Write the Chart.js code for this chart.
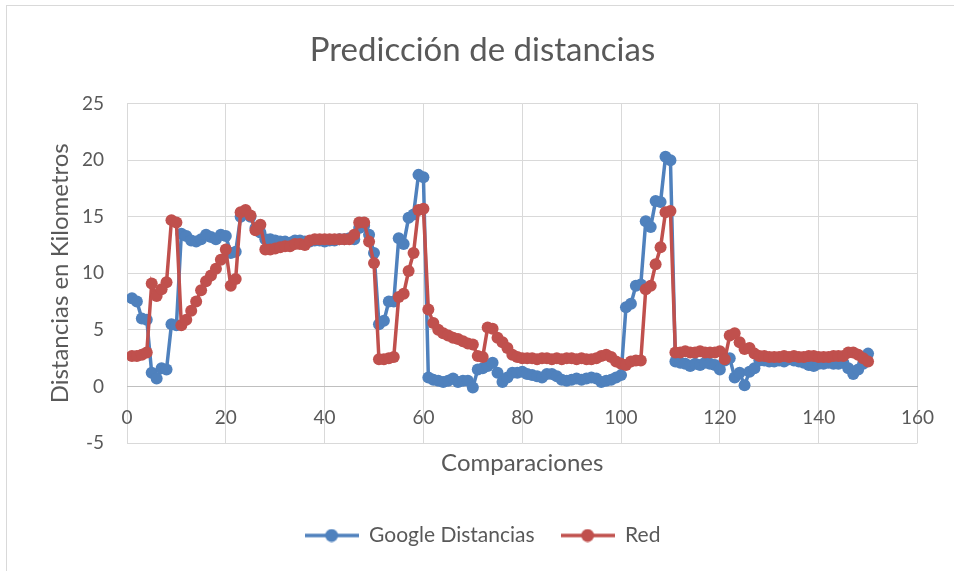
<!DOCTYPE html>
<html>
<head>
<meta charset="utf-8">
<script src="https://cdn.jsdelivr.net/npm/chart.js@4/dist/chart.umd.min.js"></script>
<style>
    html, body { margin: 0; padding: 0; background: #fff; }
    #wrap { width: 954px; height: 571px; }
</style>
</head>
<body>
<div id="wrap"><canvas id="distChart" width="954" height="571"></canvas></div>
<script>
// x: numero de comparacion (1..150)
const comparaciones = Array.from({ length: 150 }, (_, i) => i + 1);

const googleDistancias = [
    7.8, 7.5, 6.0, 5.9, 1.2, 0.7, 1.6, 1.5, 5.5, 5.4,
    13.5, 13.3, 12.9, 12.8, 13.0, 13.4, 13.2, 13.0, 13.4, 13.3,
    11.8, 11.9, 15.0, 15.3, 15.0, 14.0, 13.6, 13.0, 13.0, 12.9,
    12.8, 12.8, 12.7, 12.9, 12.9, 12.8, 12.8, 12.9, 12.9, 12.8,
    12.9, 12.9, 13.0, 13.0, 13.1, 13.0, 14.0, 14.2, 13.4, 11.8,
    5.5, 5.8, 7.5, 7.5, 13.1, 12.6, 14.9, 15.2, 18.7, 18.5,
    0.8, 0.6, 0.5, 0.4, 0.5, 0.7, 0.4, 0.5, 0.5, -0.1,
    1.5, 1.6, 1.8, 2.1, 1.2, 0.4, 0.8, 1.2, 1.2, 1.3,
    1.1, 1.0, 0.9, 0.8, 1.1, 1.1, 0.9, 0.6, 0.5, 0.6,
    0.7, 0.6, 0.7, 0.8, 0.7, 0.4, 0.5, 0.6, 0.8, 1.0,
    7.0, 7.3, 8.9, 9.0, 14.6, 14.1, 16.4, 16.3, 20.3, 20.0,
    2.2, 2.1, 2.0, 1.8, 2.0, 1.9, 2.1, 2.0, 1.9, 1.5,
    2.3, 2.5, 0.8, 1.2, 0.1, 1.3, 1.6, 2.3, 2.3, 2.2,
    2.2, 2.3, 2.2, 2.4, 2.3, 2.2, 2.1, 1.9, 1.8, 2.0,
    2.0, 2.1, 2.0, 2.0, 2.1, 1.6, 1.1, 1.5, 2.0, 2.9
];

const red = [
    2.7, 2.7, 2.8, 3.0, 9.1, 8.0, 8.6, 9.2, 14.7, 14.5,
    5.4, 5.9, 6.7, 7.5, 8.5, 9.3, 9.8, 10.4, 11.2, 12.1,
    8.9, 9.5, 15.4, 15.6, 15.1, 13.8, 14.3, 12.1, 12.1, 12.2,
    12.3, 12.4, 12.4, 12.6, 12.6, 12.5, 12.9, 13.0, 13.0, 13.0,
    13.0, 13.0, 13.0, 13.0, 13.0, 13.4, 14.5, 14.5, 12.8, 10.9,
    2.4, 2.4, 2.5, 2.6, 7.9, 8.2, 10.2, 11.8, 15.6, 15.7,
    6.8, 5.6, 5.0, 4.7, 4.5, 4.3, 4.2, 4.0, 3.8, 3.7,
    2.7, 2.6, 5.2, 5.1, 4.3, 3.9, 3.4, 2.8, 2.6, 2.5,
    2.5, 2.5, 2.4, 2.5, 2.5, 2.4, 2.5, 2.4, 2.5, 2.5,
    2.4, 2.5, 2.4, 2.4, 2.5, 2.7, 2.8, 2.6, 2.2, 2.0,
    1.9, 2.2, 2.3, 2.3, 8.6, 8.9, 10.8, 12.3, 15.4, 15.5,
    3.0, 3.0, 3.1, 3.0, 3.0, 3.1, 3.0, 3.0, 3.0, 3.1,
    2.4, 4.5, 4.7, 3.9, 3.3, 3.4, 2.9, 2.7, 2.7, 2.6,
    2.6, 2.6, 2.7, 2.6, 2.7, 2.6, 2.6, 2.7, 2.7, 2.6,
    2.6, 2.6, 2.7, 2.7, 2.7, 3.0, 3.0, 2.8, 2.5, 2.2
];

const seriesNames = ['Google Distancias', 'Red'];
const seriesColors = ['#4f81bd', '#c0504d'];

const FONT = 'Lato, "Open Sans", sans-serif';
const TEXT = '#595959';
const GRID = '#d9d9d9';

function toPoints(values) {
    return values.map((v, i) => ({ x: comparaciones[i], y: v }));
}

// icono de leyenda: linea con marcador en medio
function legendIcon(color) {
    const c = document.createElement('canvas');
    c.width = 54;
    c.height = 14;
    const g = c.getContext('2d');
    g.strokeStyle = color;
    g.lineWidth = 3.5;
    g.beginPath();
    g.moveTo(0, 7);
    g.lineTo(54, 7);
    g.stroke();
    g.fillStyle = color;
    g.beginPath();
    g.arc(27, 7, 6.5, 0, Math.PI * 2);
    g.fill();
    return c;
}
const legendIcons = seriesColors.map(legendIcon);

// marco exterior del grafico
const framePlugin = {
    id: 'frame',
    beforeDraw(chart) {
        const ctx = chart.ctx;
        ctx.save();
        ctx.fillStyle = '#fff';
        ctx.fillRect(0, 0, chart.width, chart.height);
        ctx.strokeStyle = GRID;
        ctx.lineWidth = 1;
        ctx.strokeRect(6.5, 5.5, 1200, 1200);
        ctx.restore();
    }
};

const ctx = document.getElementById('distChart').getContext('2d');
const chart = new Chart(ctx, {
    type: 'scatter',
    data: {
        datasets: [{
            label: seriesNames[0],
            data: toPoints(googleDistancias),
            showLine: true,
            borderColor: seriesColors[0],
            backgroundColor: seriesColors[0],
            borderWidth: 3.5,
            pointRadius: 6,
            pointBorderWidth: 0,
            order: 1
        }, {
            label: seriesNames[1],
            data: toPoints(red),
            showLine: true,
            borderColor: seriesColors[1],
            backgroundColor: seriesColors[1],
            borderWidth: 3.5,
            pointRadius: 6,
            pointBorderWidth: 0,
            order: 0
        }]
    },
    options: {
        responsive: false,
        animation: false,
        layout: {
            padding: { left: 46, right: 35, top: 10, bottom: 15 }
        },
        scales: {
            x: {
                type: 'linear',
                position: { y: 0 },
                min: 0,
                max: 160,
                ticks: { stepSize: 20, color: TEXT, font: { family: FONT, size: 19 }, padding: 20, maxRotation: 0 },
                grid: { color: GRID, drawTicks: false },
                border: { color: '#bfbfbf', width: 1 }
            },
            xTitle: {
                type: 'linear',
                position: 'bottom',
                min: 0,
                max: 160,
                ticks: { display: false },
                grid: { display: false, drawTicks: false },
                border: { display: false },
                title: {
                    display: true,
                    text: 'Comparaciones',
                    color: TEXT,
                    font: { family: FONT, size: 24 },
                    padding: { top: 0, bottom: 21 }
                },
                afterFit(scale) { scale.height = 56; }
            },
            y: {
                min: -5,
                max: 25,
                ticks: { stepSize: 5, color: TEXT, font: { family: FONT, size: 19 }, padding: 23 },
                grid: { color: GRID, drawTicks: false },
                border: { display: false },
                title: {
                    display: true,
                    text: 'Distancias en Kilometros',
                    color: TEXT,
                    font: { family: FONT, size: 24 },
                    padding: 0
                },
                afterFit(scale) { scale.width = 127 - 46; }
            }
        },
        plugins: {
            title: {
                display: true,
                text: 'Predicción de distancias',
                color: TEXT,
                font: { family: FONT, size: 33, weight: 'normal' },
                padding: { top: 21, bottom: 33 }
            },
            legend: {
                position: 'bottom',
                labels: {
                    color: TEXT,
                    font: { family: FONT, size: 21 },
                    usePointStyle: true,
                    pointStyleWidth: 54,
                    padding: 26,
                    sort: (a, b) => a.datasetIndex - b.datasetIndex,
                    generateLabels(chart) {
                        const items = Chart.defaults.plugins.legend.labels.generateLabels(chart);
                        items.forEach(it => { it.pointStyle = legendIcons[it.datasetIndex]; });
                        return items;
                    }
                }
            },
            tooltip: { enabled: false }
        }
    },
    plugins: [framePlugin]
});
</script>
</body>
</html>
